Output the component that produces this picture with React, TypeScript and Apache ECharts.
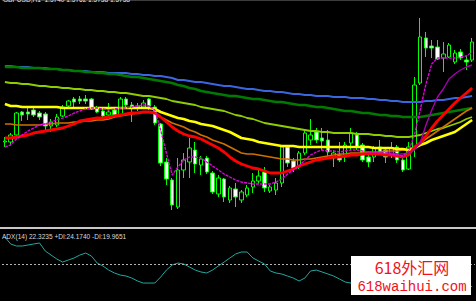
import React, { useEffect, useRef } from "react";
import * as echarts from "echarts";

// ---- data ----
const barCount = 82;
const barTimes: string[] = Array.from({ length: barCount }, (_, i) => String(i + 1));

const opens = [
  1.5658, 1.5658, 1.5665, 1.5688, 1.5688, 1.5690, 1.5687, 1.5686, 1.5674, 1.5675,
  1.5684, 1.5694, 1.5701, 1.5701, 1.5701, 1.5701, 1.5692, 1.5689, 1.5685, 1.5690,
  1.5685, 1.5701, 1.5695, 1.5692, 1.5693, 1.5701, 1.5693, 1.5676, 1.5638, 1.5620,
  1.5593, 1.5630, 1.5638, 1.5650, 1.5635, 1.5642, 1.5627, 1.5606, 1.5621, 1.5600,
  1.5611, 1.5600, 1.5605, 1.5613, 1.5619, 1.5628, 1.5609, 1.5610, 1.5617, 1.5653,
  1.5639, 1.5633, 1.5647, 1.5660, 1.5668, 1.5662, 1.5660, 1.5642, 1.5645, 1.5643,
  1.5657, 1.5665, 1.5655, 1.5643, 1.5643, 1.5653, 1.5650, 1.5645, 1.5653, 1.5640,
  1.5631, 1.5653, 1.5717, 1.5762, 1.5754, 1.5753, 1.5742, 1.5743, 1.5738, 1.5748,
  1.5740, 1.5740,
];
const closes = [
  1.5659, 1.5665, 1.5687, 1.5685, 1.5686, 1.5685, 1.5683, 1.5674, 1.5678, 1.5683,
  1.5693, 1.5699, 1.5698, 1.5699, 1.5699, 1.5691, 1.5688, 1.5684, 1.5688, 1.5685,
  1.5701, 1.5695, 1.5692, 1.5694, 1.5697, 1.5694, 1.5677, 1.5637, 1.5621, 1.5595,
  1.5630, 1.5640, 1.5652, 1.5636, 1.5641, 1.5628, 1.5608, 1.5622, 1.5603, 1.5612,
  1.5603, 1.5608, 1.5612, 1.5619, 1.5624, 1.5612, 1.5613, 1.5617, 1.5653, 1.5637,
  1.5632, 1.5647, 1.5667, 1.5665, 1.5660, 1.5659, 1.5648, 1.5647, 1.5640, 1.5655,
  1.5667, 1.5653, 1.5640, 1.5638, 1.5652, 1.5648, 1.5643, 1.5652, 1.5640, 1.5630,
  1.5653, 1.5715, 1.5763, 1.5752, 1.5752, 1.5741, 1.5746, 1.5755, 1.5747, 1.5742,
  1.5738, 1.5758,
];
const lows = [
  1.5653, 1.5655, 1.5664, 1.5679, 1.5680, 1.5683, 1.5680, 1.5670, 1.5668, 1.5673,
  1.5683, 1.5692, 1.5693, 1.5696, 1.5696, 1.5690, 1.5687, 1.5681, 1.5683, 1.5682,
  1.5684, 1.5692, 1.5678, 1.5689, 1.5691, 1.5690, 1.5675, 1.5634, 1.5615, 1.5590,
  1.5591, 1.5622, 1.5622, 1.5627, 1.5625, 1.5626, 1.5606, 1.5603, 1.5598, 1.5597,
  1.5593, 1.5597, 1.5603, 1.5607, 1.5616, 1.5608, 1.5607, 1.5605, 1.5613, 1.5633,
  1.5628, 1.5631, 1.5645, 1.5655, 1.5657, 1.5650, 1.5643, 1.5633, 1.5638, 1.5638,
  1.5650, 1.5650, 1.5638, 1.5633, 1.5638, 1.5645, 1.5637, 1.5642, 1.5637, 1.5628,
  1.5630, 1.5643, 1.5715, 1.5743, 1.5742, 1.5740, 1.5728, 1.5742, 1.5736, 1.5740,
  1.5730, 1.5738,
];
const highs = [
  1.5663, 1.5667, 1.5688, 1.5689, 1.5692, 1.5692, 1.5689, 1.5688, 1.5681, 1.5686,
  1.5695, 1.5700, 1.5703, 1.5704, 1.5705, 1.5702, 1.5694, 1.5691, 1.5697, 1.5693,
  1.5703, 1.5703, 1.5698, 1.5697, 1.5700, 1.5702, 1.5695, 1.5677, 1.5642, 1.5622,
  1.5642, 1.5647, 1.5662, 1.5658, 1.5644, 1.5644, 1.5629, 1.5625, 1.5622, 1.5614,
  1.5617, 1.5610, 1.5615, 1.5627, 1.5630, 1.5633, 1.5615, 1.5622, 1.5654, 1.5655,
  1.5642, 1.5649, 1.5670, 1.5681, 1.5672, 1.5672, 1.5670, 1.5650, 1.5658, 1.5658,
  1.5672, 1.5668, 1.5657, 1.5647, 1.5654, 1.5660, 1.5652, 1.5658, 1.5655, 1.5642,
  1.5658, 1.5723, 1.5782, 1.5768, 1.5760, 1.5760, 1.5758, 1.5757, 1.5750, 1.5751,
  1.5744, 1.5762,
];

const maBlue = [
  1.5734, 1.5734, 1.5733, 1.5733, 1.5733, 1.5732, 1.5732, 1.5732, 1.5731, 1.5731,
  1.5730, 1.5730, 1.5729, 1.5729, 1.5729, 1.5728, 1.5728, 1.5728, 1.5727, 1.5727,
  1.5727, 1.5727, 1.5726, 1.5726, 1.5725, 1.5725, 1.5724, 1.5724, 1.5723, 1.5722,
  1.5720, 1.5720, 1.5719, 1.5718, 1.5718, 1.5717, 1.5716, 1.5715, 1.5714, 1.5714,
  1.5713, 1.5712, 1.5711, 1.5711, 1.5710, 1.5709, 1.5709, 1.5708, 1.5708, 1.5707,
  1.5706, 1.5706, 1.5705, 1.5705, 1.5704, 1.5704, 1.5704, 1.5703, 1.5703, 1.5703,
  1.5702, 1.5702, 1.5702, 1.5701, 1.5701, 1.5700, 1.5700, 1.5699, 1.5699, 1.5698,
  1.5698, 1.5698, 1.5698, 1.5699, 1.5699, 1.5700, 1.5700, 1.5701, 1.5702, 1.5702,
  1.5703, 1.5704,
];
const maDarkGreen = [
  1.5733, 1.5733, 1.5733, 1.5732, 1.5732, 1.5732, 1.5732, 1.5731, 1.5731, 1.5731,
  1.5730, 1.5730, 1.5729, 1.5729, 1.5728, 1.5728, 1.5727, 1.5727, 1.5726, 1.5726,
  1.5725, 1.5724, 1.5723, 1.5723, 1.5722, 1.5721, 1.5720, 1.5719, 1.5718, 1.5717,
  1.5715, 1.5714, 1.5712, 1.5711, 1.5709, 1.5708, 1.5707, 1.5706, 1.5705, 1.5704,
  1.5704, 1.5703, 1.5702, 1.5701, 1.5701, 1.5700, 1.5699, 1.5698, 1.5698, 1.5697,
  1.5696, 1.5695, 1.5695, 1.5694, 1.5693, 1.5693, 1.5692, 1.5691, 1.5690, 1.5689,
  1.5689, 1.5688, 1.5687, 1.5687, 1.5686, 1.5685, 1.5685, 1.5684, 1.5684, 1.5683,
  1.5683, 1.5683, 1.5683, 1.5684, 1.5685, 1.5686, 1.5687, 1.5688, 1.5689, 1.5690,
  1.5691, 1.5692,
];
const maYellowGreen = [
  1.5718, 1.5717, 1.5717, 1.5716, 1.5716, 1.5715, 1.5714, 1.5714, 1.5713, 1.5713,
  1.5712, 1.5712, 1.5711, 1.5711, 1.5710, 1.5710, 1.5709, 1.5709, 1.5708, 1.5708,
  1.5707, 1.5707, 1.5706, 1.5705, 1.5704, 1.5704, 1.5703, 1.5702, 1.5701, 1.5699,
  1.5698, 1.5697, 1.5696, 1.5695, 1.5693, 1.5692, 1.5691, 1.5690, 1.5689, 1.5687,
  1.5685, 1.5684, 1.5682, 1.5681, 1.5679, 1.5677, 1.5676, 1.5675, 1.5674, 1.5673,
  1.5672, 1.5671, 1.5670, 1.5669, 1.5669, 1.5668, 1.5668, 1.5667, 1.5667, 1.5667,
  1.5667, 1.5666, 1.5666, 1.5666, 1.5665, 1.5665, 1.5664, 1.5664, 1.5663, 1.5663,
  1.5663, 1.5664, 1.5665, 1.5667, 1.5669, 1.5671, 1.5672, 1.5674, 1.5676, 1.5678,
  1.5681, 1.5683,
];
const maYellow = [
  1.5696, 1.5694, 1.5694, 1.5693, 1.5693, 1.5693, 1.5693, 1.5693, 1.5693, 1.5693,
  1.5692, 1.5692, 1.5692, 1.5692, 1.5692, 1.5692, 1.5692, 1.5692, 1.5692, 1.5692,
  1.5692, 1.5692, 1.5692, 1.5692, 1.5692, 1.5692, 1.5691, 1.5688, 1.5686, 1.5684,
  1.5682, 1.5681, 1.5679, 1.5678, 1.5676, 1.5675, 1.5674, 1.5672, 1.5670, 1.5668,
  1.5665, 1.5662, 1.5661, 1.5660, 1.5658, 1.5657, 1.5656, 1.5655, 1.5654, 1.5654,
  1.5654, 1.5653, 1.5653, 1.5653, 1.5653, 1.5653, 1.5653, 1.5653, 1.5653, 1.5653,
  1.5653, 1.5653, 1.5653, 1.5653, 1.5652, 1.5652, 1.5652, 1.5652, 1.5651, 1.5651,
  1.5650, 1.5652, 1.5655, 1.5657, 1.5660, 1.5662, 1.5664, 1.5666, 1.5668, 1.5672,
  1.5676, 1.5680,
];
const maOrange = [
  1.5676, 1.5676, 1.5675, 1.5675, 1.5675, 1.5675, 1.5675, 1.5676, 1.5676, 1.5677,
  1.5677, 1.5677, 1.5678, 1.5678, 1.5679, 1.5679, 1.5680, 1.5680, 1.5681, 1.5683,
  1.5684, 1.5685, 1.5686, 1.5687, 1.5688, 1.5688, 1.5687, 1.5683, 1.5680, 1.5677,
  1.5675, 1.5673, 1.5670, 1.5668, 1.5665, 1.5663, 1.5660, 1.5658, 1.5656, 1.5653,
  1.5650, 1.5647, 1.5646, 1.5646, 1.5645, 1.5644, 1.5643, 1.5642, 1.5641, 1.5641,
  1.5640, 1.5640, 1.5641, 1.5641, 1.5642, 1.5643, 1.5644, 1.5645, 1.5646, 1.5646,
  1.5647, 1.5647, 1.5647, 1.5648, 1.5648, 1.5648, 1.5649, 1.5649, 1.5649, 1.5650,
  1.5650, 1.5653, 1.5657, 1.5661, 1.5665, 1.5669, 1.5673, 1.5677, 1.5681, 1.5685,
  1.5689, 1.5692,
];
const maRed = [
  1.5662, 1.5662, 1.5663, 1.5664, 1.5665, 1.5667, 1.5668, 1.5669, 1.5670, 1.5671,
  1.5672, 1.5674, 1.5676, 1.5679, 1.5680, 1.5681, 1.5682, 1.5682, 1.5683, 1.5684,
  1.5685, 1.5686, 1.5687, 1.5687, 1.5688, 1.5688, 1.5687, 1.5683, 1.5678, 1.5673,
  1.5669, 1.5666, 1.5664, 1.5663, 1.5661, 1.5658, 1.5655, 1.5652, 1.5648, 1.5643,
  1.5639, 1.5636, 1.5634, 1.5632, 1.5631, 1.5629, 1.5627, 1.5627, 1.5627, 1.5629,
  1.5631, 1.5634, 1.5636, 1.5638, 1.5640, 1.5641, 1.5642, 1.5643, 1.5643, 1.5644,
  1.5645, 1.5645, 1.5646, 1.5646, 1.5646, 1.5646, 1.5645, 1.5645, 1.5644, 1.5643,
  1.5645, 1.5653, 1.5657, 1.5664, 1.5672, 1.5679, 1.5685, 1.5691, 1.5697, 1.5702,
  1.5707, 1.5712,
];
const maMagenta = [
  1.5653, 1.5655, 1.5661, 1.5665, 1.5669, 1.5672, 1.5675, 1.5676, 1.5678, 1.5680,
  1.5682, 1.5684, 1.5687, 1.5689, 1.5691, 1.5692, 1.5692, 1.5691, 1.5690, 1.5691,
  1.5692, 1.5692, 1.5693, 1.5694, 1.5695, 1.5694, 1.5690, 1.5670, 1.5647, 1.5625,
  1.5633, 1.5640, 1.5643, 1.5643, 1.5642, 1.5638, 1.5634, 1.5630, 1.5626, 1.5623,
  1.5620, 1.5618, 1.5617, 1.5616, 1.5616, 1.5616, 1.5616, 1.5618, 1.5621, 1.5626,
  1.5630, 1.5634, 1.5640, 1.5645, 1.5648, 1.5650, 1.5649, 1.5649, 1.5648, 1.5649,
  1.5650, 1.5650, 1.5649, 1.5648, 1.5648, 1.5647, 1.5647, 1.5646, 1.5645, 1.5644,
  1.5649, 1.5665, 1.5690, 1.5716, 1.5736, 1.5742, 1.5742, 1.5742, 1.5742, 1.5743,
  1.5744, 1.5748,
];
const purpleStart = 66;
const maPurpleTail = [
  1.5647, 1.5647, 1.5646, 1.5646, 1.5647, 1.5650, 1.5657, 1.5675, 1.5690, 1.5703,
  1.5711, 1.5721, 1.5726, 1.5730, 1.5733, 1.5735,
];
const horizontalLevel = 1.5768;

const adxValues = [
  28.19, 27.36, 27.12, 27.12, 27.24, 27.36, 27.48, 26.53, 26.05, 25.58,
  25.22, 25.46, 25.70, 26.05, 26.29, 25.93, 25.10, 24.75, 24.27, 23.92,
  23.68, 23.56, 23.32, 22.97, 22.73, 22.73, 22.73, 23.44, 24.27, 24.87,
  25.10, 24.99, 24.63, 24.27, 24.04, 23.92, 24.27, 24.75, 25.22, 25.70,
  26.17, 26.41, 26.41, 25.70, 25.34, 24.99, 24.16, 23.92, 23.80, 23.56,
  23.32, 22.97, 23.32, 24.16, 24.27, 24.04, 23.80, 23.56, 23.21, 22.85,
  22.73, 22.61, 22.49, 22.38, 22.26, 22.14, 22.14, 22.02, 22.02, 22.02,
  21.90, 22.02, 22.14, 22.26, 22.26, 22.38, 22.38, 22.38, 22.40, 22.36,
  22.34, 22.32,
];
const adxLevel = 25;

const titleText = "GBPUSD,H1  1.5740 1.5762 1.5738 1.5758";
const adxLabel = "ADX(14) 22.3235 +DI:24.1740 -DI:19.9651";
const watermark1 = "618外汇网";
const watermark2 = "618waihui.com";

export default function App() {
  const ref = useRef<HTMLDivElement | null>(null);

  useEffect(() => {
    if (!ref.current) return;
    const chart = echarts.init(ref.current, undefined, { renderer: "svg" });

    const candleData = opens.map((o, i) => [o, closes[i], lows[i], highs[i]]);
    const purpleData = barTimes.map((_, i) =>
      i >= purpleStart ? maPurpleTail[i - purpleStart] : null
    );

    const ma = (name: string, data: any[], color: string, width: number, type: any = "solid") => ({
      type: "line",
      name,
      data,
      xAxisIndex: 0,
      yAxisIndex: 0,
      symbol: "none",
      silent: true,
      connectNulls: false,
      lineStyle: { color, width, type },
    });

    const option: any = {
      animation: false,
      backgroundColor: "#000000",
      grid: [
        { left: 2, top: 0, width: 473, height: 226 },
        { left: 2, top: 231, width: 473, height: 70 },
      ],
      xAxis: [
        { type: "category", data: barTimes, gridIndex: 0, show: false, boundaryGap: true },
        { type: "category", data: barTimes, gridIndex: 1, show: false, boundaryGap: true },
      ],
      yAxis: [
        { type: "value", gridIndex: 0, min: 1.5574, max: 1.58, show: false, splitLine: { show: false } },
        { type: "value", gridIndex: 1, min: 20.6, max: 28.9, show: false, splitLine: { show: false } },
      ],
      series: [
        {
          type: "candlestick",
          name: "GBPUSD",
          data: candleData,
          xAxisIndex: 0,
          yAxisIndex: 0,
          barWidth: 4,
          silent: true,
          itemStyle: {
            color: "#000000",
            color0: "#FFFFFF",
            borderColor: "#00FF00",
            borderColor0: "#00FF00",
            borderWidth: 1,
          },
          markLine: {
            silent: true,
            symbol: ["none", "none"],
            label: { show: false },
            lineStyle: { color: "#3C3C3C", width: 2, type: "solid" },
            data: [{ yAxis: horizontalLevel }],
          },
        },
        ma("MA blue", maBlue, "#3A66E0", 2),
        ma("MA dark green", maDarkGreen, "#007A00", 2.5),
        ma("MA yellow green", maYellowGreen, "#8FCC00", 1.8),
        ma("MA orange", maOrange, "#D07000", 1.6),
        ma("MA yellow", maYellow, "#FFFF00", 2.6),
        ma("MA red", maRed, "#FF0000", 2.8),
        ma("MA purple", purpleData, "#A400B0", 1.4),
        ma("MA magenta", maMagenta, "#E000E0", 1.4, [3, 1]),
        {
          type: "line",
          name: "ADX",
          data: adxValues,
          xAxisIndex: 1,
          yAxisIndex: 1,
          symbol: "none",
          silent: true,
          lineStyle: { color: "#20A8A0", width: 1 },
          markLine: {
            silent: true,
            symbol: ["none", "none"],
            label: { show: false },
            lineStyle: { color: "#B4B4B4", width: 1, type: [2, 2] },
            data: [{ yAxis: adxLevel }],
          },
        },
      ],
      graphic: [
        {
          type: "rect",
          z: 50,
          shape: { x: 0, y: 227, width: 476, height: 2 },
          style: { fill: "#C8C8C8" },
        },
        {
          type: "text",
          z: 60,
          x: 3,
          y: -1,
          scaleX: 0.82,
          style: {
            text: titleText,
            fill: "#E6E6E6",
            font: '8px "Liberation Sans"',
            align: "left",
            verticalAlign: "middle",
          },
        },
        {
          type: "text",
          z: 60,
          x: 2,
          y: 236,
          scaleX: 0.82,
          style: {
            text: adxLabel,
            fill: "#D8D8D8",
            font: '8px "Liberation Sans"',
            align: "left",
            verticalAlign: "middle",
          },
        },
        {
          type: "rect",
          z: 100,
          shape: { x: 351, y: 256, width: 120, height: 39 },
          style: { fill: "#FFFFFF" },
        },
        {
          type: "text",
          z: 101,
          x: 412,
          y: 267,
          style: {
            text: watermark1,
            fill: "#F0101A",
            font: '16px "Noto Sans CJK SC"',
            align: "center",
            verticalAlign: "middle",
            lineHeight: 16,
          },
        },
        {
          type: "text",
          z: 101,
          x: 412,
          y: 287,
          style: {
            text: watermark2,
            fill: "#F0101A",
            font: '14px "Liberation Mono"',
            align: "center",
            verticalAlign: "middle",
            lineHeight: 14,
          },
        },
      ],
    };

    chart.setOption(option);
    return () => {
      chart.dispose();
    };
  }, []);

  return (
    <div
      ref={ref}
      style={{ position: "fixed", left: 0, top: 0, width: 476, height: 301, background: "#000000" }}
    />
  );
}
